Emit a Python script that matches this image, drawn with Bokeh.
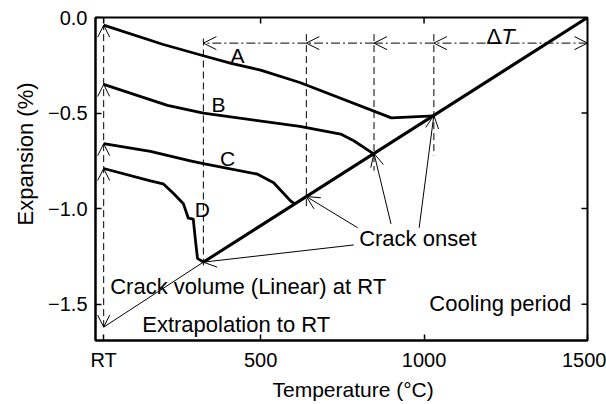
import numpy as np
from bokeh.plotting import figure
from bokeh.models import FixedTicker, Range1d, Arrow, OpenHead, Label, Title
from bokeh.embed import file_html
from bokeh.resources import INLINE

# ---------------- data ----------------
x_ticks = [20, 500, 1000, 1500]
x_tick_labels = ["RT", "500", "1000", "1500"]
y_ticks = [0.0, -0.5, -1.0, -1.5]
y_tick_labels = ["0.0", "\u22120.5", "\u22121.0", "\u22121.5"]

RT = 20

T_A = [20, 200, 325, 410, 500, 620, 900, 1030]
E_A = [-0.04, -0.14, -0.20, -0.24, -0.275, -0.34, -0.525, -0.515]

T_B = [20, 215, 325, 620, 745, 785, 847]
E_B = [-0.35, -0.46, -0.50, -0.57, -0.61, -0.645, -0.715]

T_C = [20, 163, 285, 325, 491, 540, 592, 605]
E_C = [-0.66, -0.70, -0.75, -0.765, -0.82, -0.865, -0.96, -0.975]

T_D = [20, 163, 202, 233, 264, 279, 294, 301, 307, 325]
E_D = [-0.79, -0.855, -0.87, -0.92, -0.975, -1.05, -1.055, -1.17, -1.26, -1.28]

T_cool = [325, 1500]
E_cool = [-1.28, 0.0]

T_extrap = [20, 325]
E_extrap = [-1.62, -1.28]

onset_T = [1030, 847, 640, 325]
dT_level = -0.134

FONT = "Liberation Sans"
X0, X1 = -5, 1500
Y0, Y1 = -1.69, 0.0
W, H = 606, 404
ML, MR, MT, MB = 95, 19, 17, 64

# ---------------- figure ----------------
p = figure(width=W, height=H, output_backend="svg", toolbar_location=None,
           x_range=Range1d(X0, X1), y_range=Range1d(Y0, Y1),
           min_border_left=ML, min_border_right=MR, min_border_top=MT, min_border_bottom=MB)
p.grid.visible = False
p.outline_line_color = "black"
p.outline_line_width = 2
p.background_fill_color = "white"
p.border_fill_color = "white"

for ax in (p.xaxis[0], p.yaxis[0]):
    ax.major_tick_in = 6
    ax.major_tick_out = 0
    ax.minor_tick_in = 0
    ax.minor_tick_out = 0
    ax.axis_line_width = 2
    ax.axis_line_color = "black"
    ax.major_tick_line_color = "black"
    ax.major_tick_line_width = 1.5
    ax.major_label_text_font = FONT
    ax.major_label_text_color = "black"
    ax.major_label_text_font_size = "20px"
    ax.major_label_standoff = 8

p.xaxis.ticker = FixedTicker(ticks=x_ticks)
p.xaxis.major_label_overrides = dict(zip(x_ticks, x_tick_labels))
p.yaxis.ticker = FixedTicker(ticks=y_ticks)
p.yaxis.major_label_overrides = dict(zip(y_ticks, y_tick_labels))

# inward ticks on top and right edges (6 px long)
dx = 6 * (X1 - X0) / (W - ML - MR)
dy = 6 * (Y1 - Y0) / (H - MT - MB)
p.segment(x0=x_ticks, y0=[Y1] * len(x_ticks), x1=x_ticks, y1=[Y1 - dy] * len(x_ticks),
          line_color="black", line_width=1.5)
p.segment(x0=[X1] * len(y_ticks), y0=y_ticks, x1=[X1 - dx] * len(y_ticks), y1=y_ticks,
          line_color="black", line_width=1.5)

# axis titles
p.add_layout(Title(text="Temperature (\u00b0C)", align="left", offset=177,
                   text_font=FONT, text_font_size="21px", text_font_style="normal",
                   text_color="black", standoff=4), "below")
p.add_layout(Title(text="Expansion (%)", align="left", offset=115, vertical_align="top",
                   text_font=FONT, text_font_size="22px", text_font_style="normal",
                   text_color="black", standoff=12), "left")

# ---------------- curves ----------------
for T, E in [(T_A, E_A), (T_B, E_B), (T_C, E_C), (T_D, E_D)]:
    p.line(T, E, line_color="black", line_width=2.8, line_join="round")
p.line(T_cool, E_cool, line_color="black", line_width=3)
p.line(T_extrap, E_extrap, line_color="black", line_width=1)

onset_E = list(np.interp(onset_T, T_cool, E_cool))

# dashed vertical at RT
starts_E = [E_A[0], E_B[0], E_C[0], E_D[0]]
p.segment(x0=[RT], y0=[E_extrap[0]], x1=[RT], y1=[max(starts_E)],
          line_color="black", line_width=1, line_dash="7 4")
for e in starts_E:
    p.add_layout(Arrow(x_start=RT, y_start=e - 0.1, x_end=RT, y_end=e, line_alpha=0,
                       end=OpenHead(size=12, line_width=1, line_color="black")))
p.add_layout(Arrow(x_start=RT, y_start=E_extrap[0] + 0.1, x_end=RT, y_end=E_extrap[0], line_alpha=0,
                   end=OpenHead(size=12, line_width=1, line_color="black")))

# dashed verticals at crack onsets
dash_top = [-0.087, -0.087, -0.087, -0.11]
dash_ext = [0.21, 0.09, 0.07, 0.03]
p.segment(x0=onset_T, y0=dash_top, x1=onset_T,
          y1=[e - d for e, d in zip(onset_E, dash_ext)],
          line_color="black", line_width=1, line_dash="7 4")

# dash-dot delta-T line with arrowheads
pts = onset_T[::-1] + [1500]
for i in range(len(pts) - 1):
    last = (i == len(pts) - 2)
    p.add_layout(Arrow(x_start=pts[i + 1], y_start=dT_level, x_end=pts[i], y_end=dT_level,
                       line_width=1, line_dash="9 3 2 3", line_color="black",
                       end=OpenHead(size=13, line_width=1, line_color="black"),
                       start=OpenHead(size=13, line_width=1, line_color="black") if last else None))

# crack onset arrows
tail_T = [985, 899, 797, 785]
tail_E = [-1.10, -1.08, -1.10, -1.19]
for tx, ty, hx, hy in zip(tail_T, tail_E, onset_T, onset_E):
    p.add_layout(Arrow(x_start=tx, y_start=ty, x_end=hx, y_end=hy, line_width=1, line_color="black",
                       end=OpenHead(size=13, line_width=1, line_color="black")))

# ---------------- text ----------------
def lab(x, y, text, align="center", size="22px", style="normal"):
    p.add_layout(Label(x=x, y=y, text=text, text_align=align, text_baseline="middle",
                       text_font=FONT, text_font_size=size, text_font_style=style,
                       text_color="black"))

lab(429, -0.20, "A", size="21px")
lab(371, -0.453, "B", size="21px")
lab(399, -0.736, "C", size="21px")
lab(322, -1.003, "D", size="21px")
lab(981, -1.154, "Crack onset")
lab(40, -1.406, "Crack volume (Linear) at RT", align="left")
lab(138, -1.605, "Extrapolation to RT", align="left")
lab(1233, -1.495, "Cooling period")
lab(1236, -0.097, "\u0394", align="right")
lab(1236, -0.097, "T", align="left", style="italic")

open("out.html", "w").write(file_html(p, INLINE))
